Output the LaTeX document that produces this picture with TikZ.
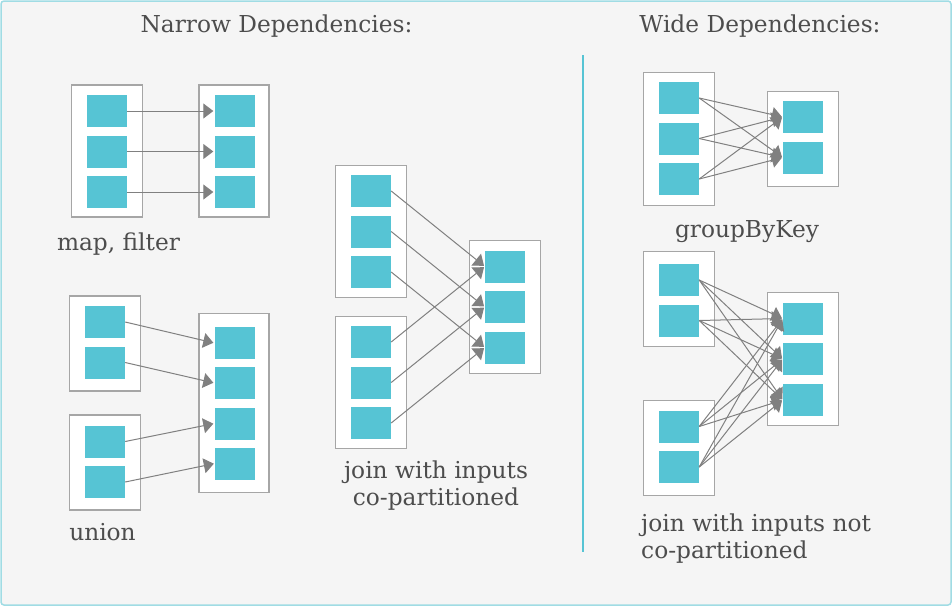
\documentclass[tikz,border=0pt]{standalone}
\usepackage{fontspec}
\setmainfont{DejaVu Serif}
\usetikzlibrary{arrows.meta}
\definecolor{partcol}{HTML}{56C4D4}
\definecolor{boxgray}{HTML}{A6A6A6}
\definecolor{arrowgray}{HTML}{808080}
\definecolor{txtgray}{HTML}{4D4D4D}
\definecolor{bggray}{HTML}{F5F5F5}
\definecolor{framecol}{HTML}{A0DCE4}

\begin{document}
\begin{tikzpicture}
            [x=1pt,y=-1pt,
             rdd/.style={rectangle,draw=boxgray,fill=white,line width=1.1pt,minimum width=71pt,inner sep=0pt},
             part/.style={rectangle,fill=partcol,minimum width=40pt,minimum height=32pt,inner sep=0pt},
             dep/.style={draw=arrowgray,line width=1pt,-{Triangle[length=10pt,width=15pt]},shorten >=1pt},
             lbl/.style={text=txtgray,font=\fontsize{23.3}{27}\selectfont,inner sep=0pt}]
            \useasboundingbox (0,0) rectangle (952,606);
            \draw[framecol,fill=bggray,line width=1.5pt,rounded corners=3pt] (1,1) rectangle (951,605);
            % titles and divider
            \node[lbl] (narrow) at (276.5,26) {Narrow Dependencies:};
            \node[lbl] (wide) at (760,26) {Wide Dependencies:};
            \coordinate (divtop) at (583,55);
            \coordinate (divbot) at (583,552);
            \draw[partcol,line width=1.5pt] (divtop) -- (divbot);
            % map, filter
            \node[rdd,minimum height=132pt] (mapin) at (107,151) {};
            \node[rdd,minimum height=132pt,minimum width=70pt] (mapout) at (234,151) {};
            \node[part] (mi1) at (107,111) {};
            \node[part] (mi2) at (107,151.5) {};
            \node[part] (mi3) at (107,192) {};
            \node[part] (mo1) at (234.5,111) {};
            \node[part] (mo2) at (234.5,151.5) {};
            \node[part] (mo3) at (234.5,192) {};
            \draw[dep] (mi1) -- (mo1);
            \draw[dep] (mi2) -- (mo2);
            \draw[dep] (mi3) -- (mo3);
            \node[lbl] (maplbl) at (118.5,244) {map, filter};
            % union
            \node[rdd,minimum height=95pt] (unia) at (105,343.5) {};
            \node[rdd,minimum height=95pt] (unib) at (105,462.5) {};
            \node[rdd,minimum height=179pt,minimum width=70pt] (unio) at (234,403) {};
            \node[part] (ua1) at (105,322) {};
            \node[part] (ua2) at (105,362.5) {};
            \node[part] (ub1) at (105,441.5) {};
            \node[part] (ub2) at (105,482) {};
            \node[part] (uo1) at (234.5,343) {};
            \node[part] (uo2) at (234.5,383) {};
            \node[part] (uo3) at (234.5,423.5) {};
            \node[part] (uo4) at (235,463.5) {};
            \draw[dep] (ua1.east) -- (uo1.west);
            \draw[dep] (ua2.east) -- (uo2.west);
            \draw[dep] (ub1.east) -- (uo3.west);
            \draw[dep] (ub2.east) -- (uo4.west);
            \node[lbl] (unilbl) at (102.5,532) {union};
            % join with inputs co-partitioned
            \node[rdd,minimum height=132pt] (cpa) at (371,231.5) {};
            \node[rdd,minimum height=132pt] (cpb) at (371,382.5) {};
            \node[rdd,minimum height=133pt] (cpo) at (505,307) {};
            \node[part] (ca1) at (371,191) {};
            \node[part] (ca2) at (371,231.5) {};
            \node[part] (ca3) at (371,272) {};
            \node[part] (cb1) at (371,342) {};
            \node[part] (cb2) at (371,382.5) {};
            \node[part] (cb3) at (371,423) {};
            \node[part] (co1) at (505,266.5) {};
            \node[part] (co2) at (505,307) {};
            \node[part] (co3) at (505,347.5) {};
            \draw[dep] (ca1.east) -- (co1.west);
            \draw[dep] (ca2.east) -- (co2.west);
            \draw[dep] (ca3.east) -- (co3.west);
            \draw[dep] (cb1.east) -- (co1.west);
            \draw[dep] (cb2.east) -- (co2.west);
            \draw[dep] (cb3.east) -- (co3.west);
            \node[lbl,align=center] (cplbl) at (436,485.5) {join with inputs\\co-partitioned};
            % groupByKey
            \node[rdd,minimum height=133pt] (gbin) at (679,139) {};
            \node[rdd,minimum height=95pt] (gbout) at (803,139) {};
            \node[part] (gi1) at (679,98) {};
            \node[part] (gi2) at (679,138.5) {};
            \node[part] (gi3) at (679,179) {};
            \node[part] (go1) at (803,117) {};
            \node[part] (go2) at (803,157.5) {};
            \foreach \i in {1,2,3}
              \foreach \j in {1,2}
                \draw[dep] (gi\i.east) -- (go\j.west);
            \node[lbl] (gblbl) at (747,232) {groupByKey};
            % join with inputs not co-partitioned
            \node[rdd,minimum height=95pt] (nca) at (679,299) {};
            \node[rdd,minimum height=95pt] (ncb) at (679,448) {};
            \node[rdd,minimum height=133pt] (nco) at (803,359) {};
            \node[part] (na1) at (679,280) {};
            \node[part] (na2) at (679,320.5) {};
            \node[part] (nb1) at (679,426.5) {};
            \node[part] (nb2) at (679,467) {};
            \node[part] (no1) at (803,318.5) {};
            \node[part] (no2) at (803,359) {};
            \node[part] (no3) at (803,400) {};
            \foreach \s in {na1,na2,nb1,nb2}
              \foreach \j in {1,2,3}
                \draw[dep] (\s.east) -- (no\j.west);
            \node[lbl,align=left,anchor=west] (nclbl) at (641,538.5) {join with inputs not\\co-partitioned};
\end{tikzpicture}
\end{document}
